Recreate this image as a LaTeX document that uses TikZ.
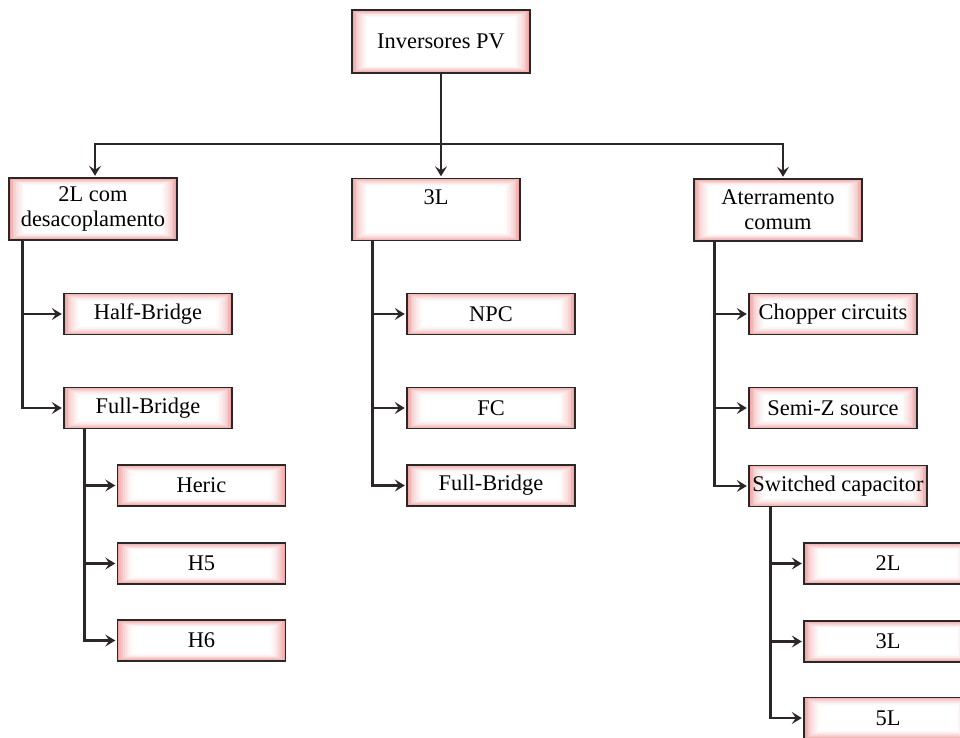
\documentclass[tikz,border=0pt]{standalone}
\usepackage{fontspec}
\setmainfont{Liberation Serif}
\usepackage{tikz}
\usetikzlibrary{arrows.meta}

\definecolor{glow}{RGB}{238,165,165}
\definecolor{edge}{RGB}{45,38,38}

\tikzset{
	catbox/.style={draw=edge, line width=1.4pt, fill=white, inner sep=0pt,
		font=\fontsize{22.4}{25}\selectfont, align=center,
		path picture={
			\foreach \k [evaluate=\k as \p using {int(100*(1-\k/10)^2)}] in {0,...,10}
				\fill[glow!\p!white] ([shift={(\k*1.8pt,\k*0.9pt)}]path picture bounding box.south west)
					rectangle ([shift={(-\k*1.8pt,-\k*0.9pt)}]path picture bounding box.north east);
		}},
	leaf/.style={catbox, minimum width=168pt, minimum height=41pt},
	group/.style={catbox, minimum width=168pt, minimum height=62pt},
	line/.style={draw=edge, line width=2.4pt},
	conn/.style={line, -{Stealth[length=10pt, width=12pt, inset=4pt]}, shorten >=1.5pt}
}

\begin{document}
\begin{tikzpicture}[x=1pt, y=-1pt]
	\useasboundingbox (0,0) rectangle (960,738);

	% top level
	\node[catbox, minimum width=178pt, minimum height=63pt] (root) at (441,41.5) {Inversores PV};
	\node[group] (twoL) at (93,209) {2L com\\desacoplamento};
	\node[group] (threeL) at (436,209.5) {3L\\\mbox{}};
	\node[group] (ater) at (778,210) {Aterramento\\comum};

	% first branch
	\node[leaf] (half) at (148,314) {Half-Bridge};
	\node[leaf] (fullA) at (148,408) {Full-Bridge};
	\node[leaf] (heric) at (201.5,485.5) {Heric};
	\node[leaf] (hfive) at (201.5,563.5) {H5};
	\node[leaf] (hsix) at (201.5,640.5) {H6};

	% second branch
	\node[leaf] (npc) at (491,314) {NPC};
	\node[leaf] (fc) at (491,408) {FC};
	\node[leaf] (fullB) at (491,485.5) {Full-Bridge};

	% third branch
	\node[leaf] (chop) at (833,314) {Chopper circuits};
	\node[leaf] (semi) at (833,408) {Semi-Z source};
	\node[leaf, minimum width=178pt] (swc) at (838,486) {Switched capacitor};
	\node[leaf] (sctwo) at (888,563.5) {2L};
	\node[leaf] (scthree) at (888,641.5) {3L};
	\node[leaf] (scfive) at (888,718) {5L};

	% bus from the root
	\coordinate (bus) at (441,144);
	\draw[line] (root.south) -- (bus);
	\draw[conn] (bus) -| ([xshift=2pt]twoL.north);
	\draw[conn] (bus) -- (bus |- threeL.north);
	\draw[conn] (bus) -| ([xshift=5pt]ater.north);

	% branches
	\draw[conn] ([xshift=14pt]twoL.south west) |- (half.west);
	\draw[conn] ([xshift=14pt]twoL.south west) |- (fullA.west);
	\foreach \n in {heric, hfive, hsix}
		\draw[conn] ([xshift=21pt]fullA.south west) |- (\n.west);
	\foreach \n in {npc, fc, fullB}
		\draw[conn] ([xshift=21pt]threeL.south west) |- (\n.west);
	\foreach \n in {chop, semi, swc}
		\draw[conn] ([xshift=21pt]ater.south west) |- (\n.west);
	\foreach \n in {sctwo, scthree, scfive}
		\draw[conn] ([xshift=22pt]swc.south west) |- (\n.west);
\end{tikzpicture}
\end{document}
